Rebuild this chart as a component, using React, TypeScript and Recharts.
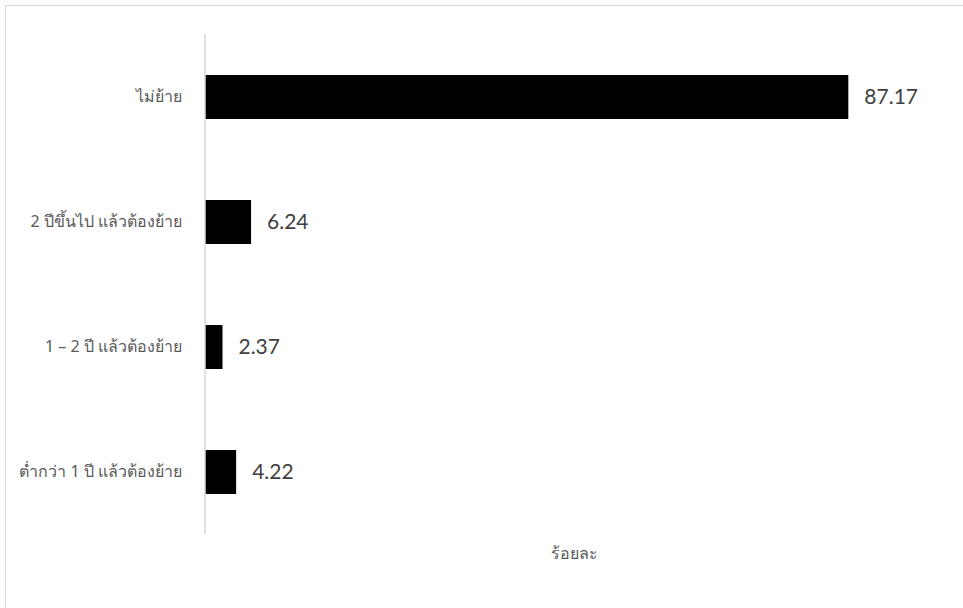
import { BarChart, Bar, XAxis, YAxis, LabelList } from "recharts";

const categories = [
  "ไม่ย้าย",
  "2 ปีขึ้นไป แล้วต้องย้าย",
  "1 – 2 ปี แล้วต้องย้าย",
  "ต่ำกว่า 1 ปี แล้วต้องย้าย",
];
const percents = [87.17, 6.24, 2.37, 4.22];

const data = categories.map((name, i) => ({ name, value: percents[i] }));

export default function App() {
  return (
    <div style={{ position: "absolute", left: 0, top: 0, width: 963, height: 608, overflow: "hidden", background: "#fff" }}>
      <div
        style={{
          position: "absolute",
          left: 5,
          top: 5,
          width: 1000,
          height: 700,
          border: "1px solid #d9d9d9",
        }}
      />
      <div style={{ position: "absolute", left: 0, top: 0 }}>
        <BarChart
          layout="vertical"
          width={963}
          height={608}
          data={data}
          margin={{ top: 34, right: 20, bottom: 14, left: 5 }}
          barCategoryGap={0}
        >
          <XAxis
            type="number"
            domain={[0, 100]}
            height={60}
            axisLine={false}
            tickLine={false}
            tick={false}
            label={{
              value: "ร้อยละ",
              position: "insideTop",
              offset: 14,
              fill: "#595959",
              fontSize: 16,
              fontFamily: "Noto Sans, sans-serif",
            }}
          />
          <YAxis
            type="category"
            dataKey="name"
            width={200}
            axisLine={{ stroke: "#d9d9d9", strokeWidth: 1.5 }}
            tickLine={false}
            tickSize={0}
            tickMargin={23}
            tick={{ fill: "#595959", fontSize: 16, fontFamily: "Noto Sans, sans-serif" }}
          />
          <Bar dataKey="value" fill="#000" barSize={44} isAnimationActive={false}>
            <LabelList
              dataKey="value"
              position="right"
              offset={16}
              fill="#404040"
              fontSize={21}
              fontFamily="Lato, Open Sans, sans-serif"
              formatter={(v: number) => v.toFixed(2)}
            />
          </Bar>
        </BarChart>
      </div>
    </div>
  );
}
